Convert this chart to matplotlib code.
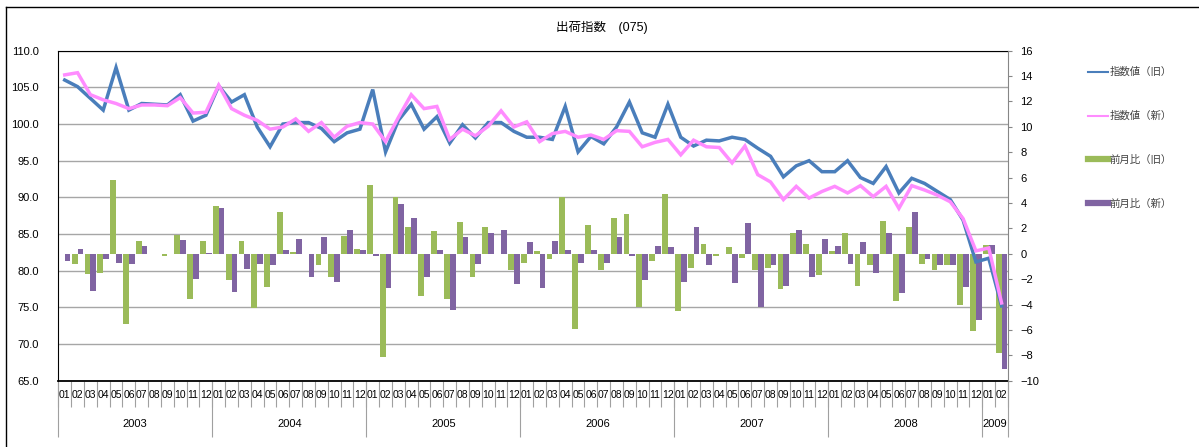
import matplotlib.pyplot as plt
from matplotlib.lines import Line2D
import numpy as np

plt.rcParams['font.family'] = ['Liberation Sans', 'Noto Sans CJK JP']

years = ['2003', '2004', '2005', '2006', '2007', '2008', '2009']
months = ['%02d' % (m + 1) for m in range(12)] * 6 + ['01', '02']

# 指数値 (left axis)
old_index = [106.0, 105.1, 103.5, 101.9, 107.7, 101.9, 102.8, 102.7, 102.6, 104.0, 100.4, 101.2,
             105.2, 103.0, 104.0, 99.6, 96.9, 100.0, 100.2, 100.2, 99.4, 97.6, 98.8, 99.3,
             104.7, 96.2, 100.5, 102.7, 99.3, 101.0, 97.4, 99.9, 98.1, 100.2, 100.2, 99.0,
             98.2, 98.2, 97.9, 102.4, 96.2, 98.3, 97.3, 99.6, 103.0, 98.8, 98.2, 102.7,
             98.2, 97.0, 97.8, 97.7, 98.2, 97.9, 96.7, 95.6, 92.8, 94.3, 95.0, 93.5,
             93.5, 95.0, 92.7, 91.9, 94.2, 90.6, 92.6, 91.9, 90.8, 89.7, 86.9, 81.2,
             81.7, 75.2]
new_index = [106.7, 107.0, 104.0, 103.3, 102.8, 102.1, 102.6, 102.6, 102.5, 103.6, 101.5, 101.6,
             105.3, 102.1, 101.2, 100.5, 99.3, 99.6, 100.7, 99.0, 100.2, 98.2, 99.7, 100.2,
             100.0, 97.6, 100.9, 104.0, 102.1, 102.4, 97.9, 99.3, 98.4, 99.7, 101.8, 99.6,
             100.3, 97.6, 98.7, 99.0, 98.2, 98.5, 97.9, 99.1, 99.0, 96.9, 97.5, 97.9,
             95.8, 97.8, 96.9, 96.8, 94.7, 97.0, 93.1, 92.1, 89.7, 91.5, 89.9, 90.8,
             91.5, 90.6, 91.6, 90.1, 91.5, 88.5, 91.6, 91.0, 90.3, 89.4, 87.1, 82.7,
             83.1, 75.6]

# 前月比 (right axis)
old_mom = [-0.05, -0.8, -1.6, -1.5, 5.8, -5.5, 1.0, -0.05, -0.2, 1.5, -3.6, 1.0,
           3.8, -2.1, 1.0, -4.3, -2.6, 3.3, 0.15, 0.0, -0.9, -1.8, 1.4, 0.4,
           5.4, -8.1, 4.5, 2.1, -3.3, 1.8, -3.6, 2.5, -1.8, 2.1, 0.0, -1.3,
           -0.7, 0.2, -0.4, 4.5, -5.9, 2.3, -1.3, 2.8, 3.1, -4.2, -0.6, 4.7,
           -4.5, -1.1, 0.8, -0.2, 0.5, -0.3, -1.3, -1.1, -2.8, 1.6, 0.8, -1.7,
           0.2, 1.6, -2.5, -0.9, 2.6, -3.7, 2.1, -0.8, -1.3, -0.9, -4.0, -6.1,
           0.7, -7.8]
new_mom = [-0.6, 0.4, -2.9, -0.4, -0.7, -0.8, 0.6, 0.0, -0.05, 1.1, -2.0, 0.1,
           3.6, -3.0, -1.2, -0.8, -0.9, 0.3, 1.2, -1.8, 1.3, -2.2, 1.9, 0.3,
           -0.2, -2.7, 3.9, 2.8, -1.8, 0.3, -4.4, 1.3, -0.8, 1.6, 1.9, -2.4,
           0.9, -2.7, 1.0, 0.3, -0.7, 0.3, -0.7, 1.3, -0.2, -2.1, 0.6, 0.5,
           -2.2, 2.1, -0.9, 0.0, -2.3, 2.4, -4.2, -0.9, -2.5, 1.9, -1.8, 1.15,
           0.6, -0.8, 0.9, -1.5, 1.6, -3.1, 3.3, -0.45, -0.9, -0.9, -2.6, -5.2,
           0.7, -9.1]

labels = ['指数値（旧）', '指数値（新）', '前月比（旧）', '前月比（新）']
colors = ['#4A7EBB', '#FF8CFF', '#9BBB59', '#8064A2']

W, H = 1199, 447
fig = plt.figure(figsize=(W / 100, H / 100), dpi=100)
ax = fig.add_axes([58.3 / W, 1 - 380.7 / H, (1008 - 58.3) / W, 330 / H])

x = np.arange(len(months))
n = len(months)

# left axis: grid and labels
ax.set_xlim(-0.5, n - 0.5)
ax.set_ylim(65, 110)
yt = np.arange(65, 111, 5)
ax.set_yticks(yt)
ax.set_yticklabels(['%.1f' % v for v in yt])
ax.grid(axis='y', color='#a6a6a6', lw=1.0)
ax.set_axisbelow(True)
ax.tick_params(axis='y', length=0, pad=14, labelsize=8)
ax.set_xticks([])
for s in ['left', 'top', 'bottom']:
    ax.spines[s].set_color('black')
ax.spines['bottom'].set_linewidth(1.3)
ax.spines['right'].set_visible(False)

# right axis: bars
ax2 = ax.twinx()
ax2.bar(x - 0.225, old_mom, width=0.45, color=colors[2], lw=0)
ax2.bar(x + 0.225, new_mom, width=0.45, color=colors[3], lw=0)
ax2.set_ylim(-10, 16)
ax2.set_yticks(range(-10, 17, 2))
ax2.tick_params(axis='y', length=3, width=0.8, color='#868686', labelsize=8, pad=6)
for s in ['left', 'top', 'bottom']:
    ax2.spines[s].set_visible(False)
ax2.spines['right'].set_color('#868686')

# lines on top
ax3 = ax.twinx()
ax3.set_ylim(65, 110)
ax3.plot(x, old_index, color=colors[0], lw=2.5, solid_joinstyle='miter')
ax3.plot(x, new_index, color=colors[1], lw=2.5, solid_joinstyle='miter')
ax3.set_yticks([])
for s in ax3.spines.values():
    s.set_visible(False)

# category axis: months and years
tr = ax.get_xaxis_transform()
for i, m in enumerate(months):
    ax.text(i, -0.043, m, transform=tr, ha='center', va='center', fontsize=7.5)
bounds = list(range(0, n, 12)) + [n]
ax.vlines(np.arange(n + 1) - 0.5, -0.08, 0, transform=tr, colors='#a0a0a0',
          lw=0.8, clip_on=False)
ax.vlines(np.array(bounds) - 0.5, -0.17, 0, transform=tr, colors='#a0a0a0',
          lw=0.8, clip_on=False)
for k, y in enumerate(years):
    mid = (bounds[k] + bounds[k + 1] - 1) / 2
    ax.text(mid, -0.131, y, transform=tr, ha='center', va='center', fontsize=8)

fig.text(0.502, 1 - 27.7 / H, '出荷指数　(075)', ha='center', va='center', fontsize=9)

handles = [Line2D([], [], color=colors[0], lw=1.5),
           Line2D([], [], color=colors[1], lw=1.5),
           Line2D([], [], color=colors[2], lw=4.5),
           Line2D([], [], color=colors[3], lw=4.5)]
leg = fig.legend(handles, labels, loc='upper left', bbox_to_anchor=(1088 / W, 1 - 67 / H),
                 frameon=False, fontsize=7.5, handlelength=1.9, handletextpad=0.15,
                 labelspacing=3.25, borderpad=0, borderaxespad=0)
for t in leg.get_texts():
    t.set_color('#404040')

# outer chart frame
fig.add_artist(Line2D([6 / W, 6 / W], [0, 1 - 7 / H], color='black', lw=1,
                      transform=fig.transFigure))
fig.add_artist(Line2D([6 / W, 1], [1 - 7 / H, 1 - 7 / H], color='black', lw=1,
                      transform=fig.transFigure))

fig.savefig('out.png', dpi=100)
